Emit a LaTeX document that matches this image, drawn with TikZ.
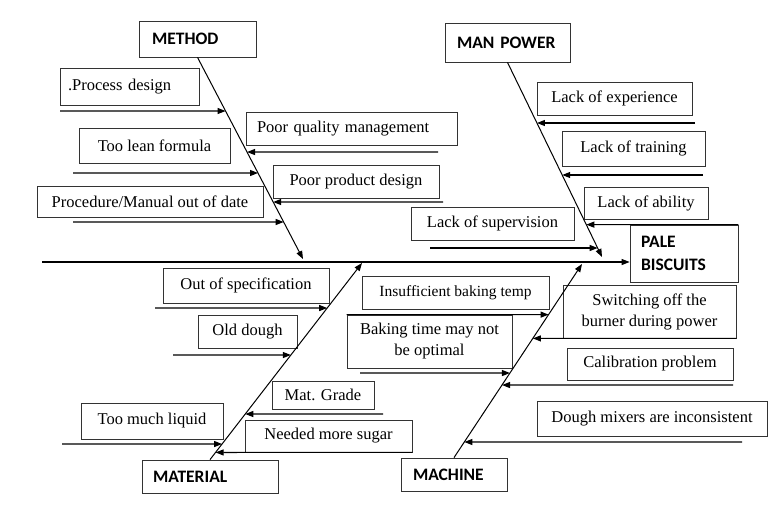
\documentclass[tikz,border=0pt]{standalone}
\usepackage{fontspec}
\setmainfont{Liberation Serif}
\newfontfamily\headfont{Carlito}
\usetikzlibrary{arrows.meta,calc}
\begin{document}
\begin{tikzpicture}[x=1pt,y=-1pt,
  box/.style={draw=black!80, line width=0.8pt, inner sep=0pt, font=\fontsize{16.5}{21}\selectfont, align=center},
  lbox/.style={draw=black!80, line width=0.8pt, inner ysep=0pt, font=\fontsize{16.5}{21}\selectfont, align=left},
  head/.style={draw=black!80, line width=0.8pt, inner ysep=0pt, font=\headfont\bfseries\fontsize{17.5}{23}\selectfont, align=left},
  branch/.style={line width=1pt, -{Triangle[length=8pt,width=6pt]}},
  arr/.style={line width=1.1pt, -{Triangle[length=8pt,width=6pt]}}]
\useasboundingbox (0,0) rectangle (770,517);
\fill[white] (0,0) rectangle (770,517);

% heading boxes
\node[head, text width=91pt, inner xsep=13pt, minimum height=36pt] (method) at (197.5,39) {METHOD};
\node[head, text width=101pt, inner xsep=12pt, minimum height=39pt] (man) at (507.5,42.5) {MAN POWER};
\node[head, text width=114pt, inner xsep=11pt, minimum height=33pt] (mat) at (210,476.5) {MATERIAL};
\node[head, text width=82pt, inner xsep=12pt, minimum height=33pt] (mach) at (454,474.5) {MACHINE};
\node[head, text width=86pt, inner xsep=11pt, minimum height=57pt] (pale) at (684,253.5) {PALE\\BISCUITS};

% method causes
\node[lbox, text width=123pt, inner xsep=8pt, minimum height=37pt] (proc) at (129.5,86.5) {.Process design};
\node[lbox, text width=189pt, inner xsep=11pt, minimum height=33pt] (pqm) at (351.5,128.5) {Poor quality management};
\node[box, minimum width=151pt, minimum height=35pt] (lean) at (154.5,145.5) {Too lean formula};
\node[box, minimum width=166pt, minimum height=33pt] (ppd) at (356,181.5) {Poor product design};
\node[box, minimum width=226pt, minimum height=31pt] (pmod) at (150,201.5) {Procedure/Manual out of date};

% man power causes
\node[box, minimum width=155pt, minimum height=33pt] (lexp) at (614.5,98.5) {Lack of experience};
\node[box, minimum width=143pt, minimum height=35pt] (ltr) at (633.5,148.5) {Lack of training};
\node[box, minimum width=124pt, minimum height=32pt] (lab) at (646,203) {Lack of ability};
\node[box, minimum width=163pt, minimum height=33pt] (lsup) at (492.5,223.5) {Lack of supervision};

% material causes
\node[box, minimum width=166pt, minimum height=35pt] (oos) at (246,285.5) {Out of specification};
\node[box, minimum width=99pt, minimum height=33pt] (old) at (247.5,331.5) {Old dough};
\node[box, minimum width=102pt, minimum height=28pt] (grade) at (323,395) {Mat. Grade};
\node[box, minimum width=142pt, minimum height=36pt] (liquid) at (152,421) {Too much liquid};
\node[box, minimum width=167pt, minimum height=32pt] (sugar) at (328.5,436) {Needed more sugar};

% machine causes
\node[box, minimum width=187pt, minimum height=33pt, font=\fontsize{15.5}{21}\selectfont] (temp) at (455.5,292.5) {Insufficient baking temp};
\node[box, minimum width=165pt, minimum height=53pt] (baking) at (429.5,341.5) {Baking time may not\\be optimal};
\node[box, minimum width=173pt, minimum height=53pt] (switch) at (649.5,311.5) {Switching off the\\burner during power};
\node[box, minimum width=166pt, minimum height=32pt] (calib) at (650,364) {Calibration problem};
\node[box, minimum width=230pt, minimum height=35pt] (dough) at (652,418.5) {Dough mixers are inconsistent};

% main spine
\coordinate (sp) at (42,262);
\draw[arr] (sp) -- (sp -| pale.west);

% branches
\coordinate (ms) at (method.south);
\coordinate (me) at (303,259);
\coordinate (ps) at (man.south);
\coordinate (pe) at (602,257);
\coordinate (ts) at (mat.north);
\coordinate (te) at (362,263);
\coordinate (ks) at (mach.north);
\coordinate (ke) at (582,264);
\draw[branch] (ms) -- (me);
\draw[branch] (ps) -- (pe);
\draw[branch] (ts) -- (te);
\draw[branch] (ks) -- (ke);

% method arrows
\coordinate (a1) at (60,111);
\coordinate (a2) at (438,152);
\coordinate (a3) at (73,173);
\coordinate (a4) at (443,202);
\coordinate (a5) at (73,222);
\draw[arr] (a1) -- (intersection of ms--me and 0,111--1,111);
\draw[arr] (a2) -- (intersection of ms--me and 0,152--1,152);
\draw[arr] (a3) -- (intersection of ms--me and 0,173--1,173);
\draw[arr] (a4) -- (intersection of ms--me and 0,202--1,202);
\draw[arr] (a5) -- (intersection of ms--me and 0,222--1,222);

% man power arrows
\coordinate (b1) at (695,123);
\coordinate (b2) at (703,175);
\coordinate (b4) at (430,248);
\draw[arr] (b1) -- (intersection of ps--pe and 0,123--1,123);
\draw[arr] (b2) -- (intersection of ps--pe and 0,175--1,175);
\draw[arr] (pale.north east) -- (intersection of ps--pe and pale.north east--pale.north west);
\draw[arr] (b4) -- (intersection of ps--pe and 0,248--1,248);

% material arrows
\coordinate (c1) at (155,308);
\coordinate (c2) at (173,355);
\coordinate (c3) at (383,414);
\coordinate (c4) at (62,444);
\draw[arr] (c1) -- (intersection of ts--te and 0,308--1,308);
\draw[arr] (c2) -- (intersection of ts--te and 0,355--1,355);
\draw[arr] (c3) -- (intersection of ts--te and 0,414--1,414);
\draw[arr] (c4) -- (intersection of ts--te and 0,444--1,444);
\draw[arr] (sugar.south east) -- (intersection of ts--te and sugar.south east--sugar.south west);

% machine arrows
\coordinate (d3) at (360,373);
\coordinate (d4) at (733,385);
\coordinate (d5) at (742,442);
\draw[arr] (baking.north west) -- (intersection of ks--ke and baking.north west--baking.north east);
\draw[arr] (switch.south east) -- (intersection of ks--ke and switch.south east--switch.south west);
\draw[arr] (d3) -- (intersection of ks--ke and 0,373--1,373);
\draw[arr] (d4) -- (intersection of ks--ke and 0,385--1,385);
\draw[arr] (d5) -- (intersection of ks--ke and 0,442--1,442);
\end{tikzpicture}
\end{document}
